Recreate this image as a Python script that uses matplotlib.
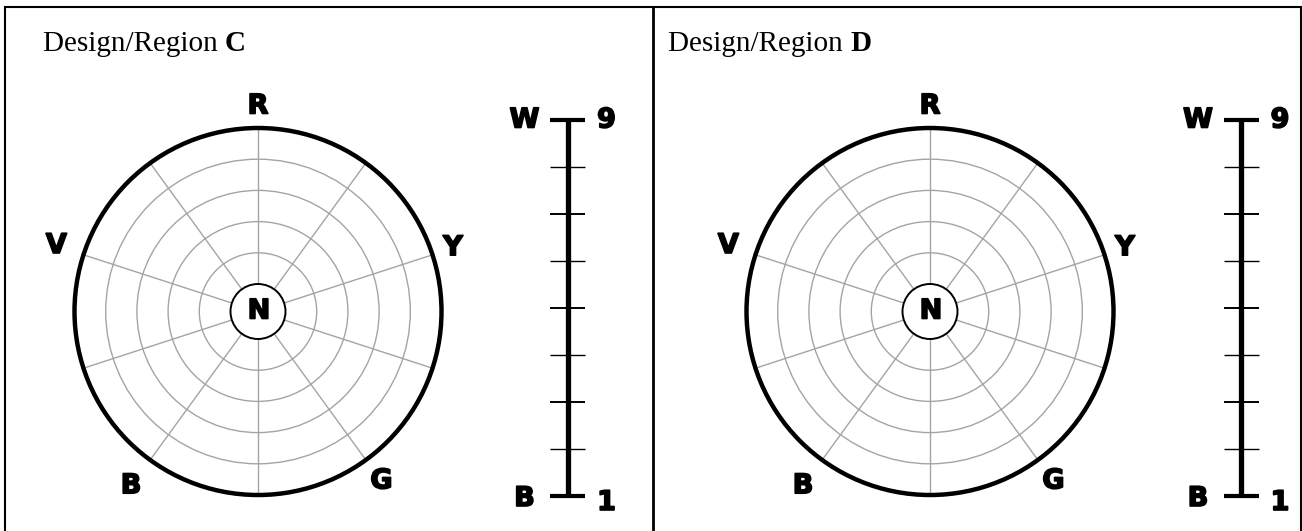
import numpy as np
import matplotlib
matplotlib.use("Agg")
import matplotlib.pyplot as plt
from matplotlib.patches import Circle
import matplotlib.patheffects as pe

# panel data
panel_titles = ["C", "D"]
hue_labels = ["R", "Y", "G", "B", "V"]        # every second spoke, clockwise from top
n_spokes = 10
ring_levels = [1, 2, 3, 4]                  # gray rings between N and the rim
rim_level = 5
scale_levels = [1, 2, 3, 4, 5, 6, 7, 8, 9]
scale_ends = {1: "B", 9: "W"}

# layout in pixels
W, H = 1302, 531
centers_x = [258, 930]
center_y = 311.5
ring_step = 31.2          # px per ring level
n_radius = 27.5
label_r = [205, 205, 210, 216, 212]
scale_x = [567.5, 1241]
scale_top, scale_bot = 119.5, 496
title_x = [43, 668]

fig = plt.figure(figsize=(W / 100, H / 100), dpi=100)
ax = fig.add_axes([0, 0, 1, 1])
ax.set_xlim(0, W)
ax.set_ylim(H, 0)
ax.axis("off")

label_font = dict(family="DejaVu Sans", fontweight="bold", fontsize=19.5,
                  ha="center", va="center", color="black",
                  path_effects=[pe.withStroke(linewidth=1.2, foreground="black")])

# frame (bottom edge falls outside the picture) and divider
ax.plot([5, 5, 1300.5, 1300.5], [531, 7, 7, 531], color="black", lw=1.5,
        solid_joinstyle="miter")
ax.plot([653, 653], [7, 531], color="black", lw=2.0)

for p, name in enumerate(panel_titles):
    cx = centers_x[p]
    rim = n_radius + rim_level * ring_step

    # title
    t = ax.text(title_x[p], 51, "Design/Region ", family="Liberation Serif",
                fontsize=21, ha="left", va="baseline")
    ax.annotate(name, xy=(1, 0), xycoords=t, ha="left", va="bottom",
                family="Liberation Serif", fontsize=21, fontweight="bold")

    # spokes
    ang = np.deg2rad(np.arange(n_spokes) * 360 / n_spokes)
    for a in ang:
        ax.plot([cx + n_radius * np.sin(a), cx + rim * np.sin(a)],
                [center_y - n_radius * np.cos(a), center_y - rim * np.cos(a)],
                color="#a4a4a4", lw=1.0, zorder=2)

    # gray rings
    for lv in ring_levels:
        ax.add_patch(Circle((cx, center_y), n_radius + lv * ring_step,
                            fill=False, ec="#a4a4a4", lw=1.0, zorder=2))

    # rim and neutral circle
    ax.add_patch(Circle((cx, center_y), rim, fill=False, ec="black", lw=3.2, zorder=3))
    ax.add_patch(Circle((cx, center_y), n_radius, fc="white", ec="black", lw=1.4, zorder=3))
    ax.text(cx + 1, center_y, "N", **label_font)

    # hue labels
    for i, lab in enumerate(hue_labels):
        a = np.deg2rad(i * 360 / len(hue_labels))
        r = label_r[i]
        ax.text(cx + r * np.sin(a), center_y - r * np.cos(a), lab, **label_font)

    # lightness scale
    sx = scale_x[p]
    ys = [scale_bot - (lv - 1) * (scale_bot - scale_top) / 8 for lv in scale_levels]
    ax.plot([sx, sx], [scale_top, scale_bot], color="black", lw=3.8, zorder=3,
            solid_capstyle="butt")
    for lv, y in zip(scale_levels, ys):
        end = lv in scale_ends
        ax.plot([sx - 17.5, sx + 17.5], [y, y], color="black",
                lw=3.0 if end else (1.4 if lv % 2 else 1.0), zorder=3,
                solid_capstyle="butt")
        if end:
            dy = 3 if lv == 1 else 1
            ax.text(sx - 43, y + dy, scale_ends[lv], **label_font)
            ax.text(sx + 39, y + dy + (4 if lv == 1 else 0), str(lv), **label_font)

fig.savefig("out.png", dpi=100)
